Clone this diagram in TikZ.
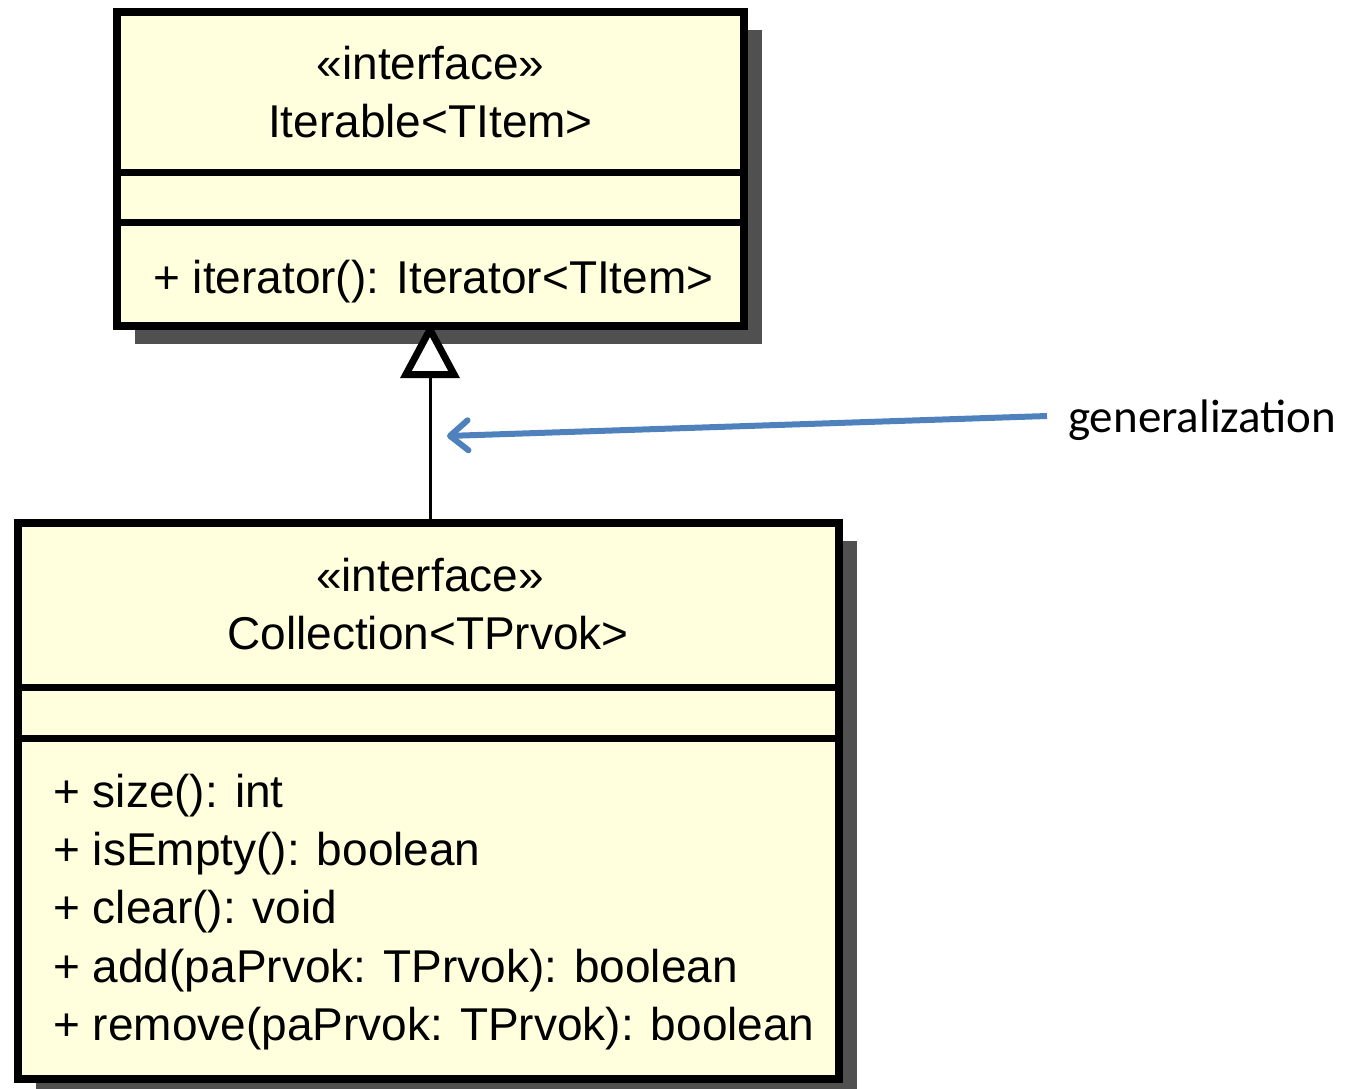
\documentclass[tikz,border=0pt]{standalone}
\usepackage{fontspec}
\setmainfont{Liberation Sans}
\newfontfamily\notefont{Carlito}
\usetikzlibrary{arrows.meta,shadows}

\definecolor{umlfill}{RGB}{255,255,221}
\definecolor{umlshadow}{RGB}{80,80,80}
\definecolor{noteblue}{RGB}{79,129,189}

\tikzset{
  classbox/.style={draw=black, line width=8pt, fill=umlfill, rectangle,
    inner sep=0pt, outer sep=0pt,
    drop shadow={shadow xshift=18pt, shadow yshift=-18pt, fill=umlshadow, opacity=1}},
  compartment/.style={line width=7pt, black},
  umltext/.style={font=\fontsize{46}{55}\selectfont, inner sep=0pt, anchor=base},
  umlitem/.style={umltext, anchor=base west},
  generalization/.style={line width=3pt, black,
    -{Triangle[open, length=56pt, width=58pt, line width=7pt, fill=white]}},
  notearrow/.style={line width=6pt, noteblue,
    -{Straight Barb[length=18pt, width=30pt, round, line width=6pt]}},
}

\begin{document}
\begin{tikzpicture}[x=1pt, y=-1pt]
  \useasboundingbox (0,0) rectangle (1357,1088);

  % Iterable<TItem>
  \node[classbox, minimum width=627pt, minimum height=314pt] (iter) at (430.5,169) {};
  \draw[compartment] (iter.west |- 0,172) -- (iter.east |- 0,172);
  \draw[compartment] (iter.west |- 0,222) -- (iter.east |- 0,222);
  \node[umltext] (iterst) at (430.5,79) {«interface»};
  \node[umltext] (itername) at (430.5,137) {Iterable<TItem>};
  \node[umlitem] (itermeth) at (153,293) {+ iterator(): Iterator<TItem>};

  % Collection<TPrvok>
  \node[classbox, minimum width=821pt, minimum height=556pt] (coll) at (428.5,801) {};
  \draw[compartment] (coll.west |- 0,687) -- (coll.east |- 0,687);
  \draw[compartment] (coll.west |- 0,738) -- (coll.east |- 0,738);
  \node[umltext] (collst) at (430,591) {«interface»};
  \node[umltext] (collname) at (428,649) {Collection<TPrvok>};
  \node[umlitem] (m1) at (53,807) {+ size(): int};
  \node[umlitem] (m2) at (53,865) {+ isEmpty(): boolean};
  \node[umlitem] (m3) at (53,923) {+ clear(): void};
  \node[umlitem] (m4) at (53,982) {+ add(paPrvok: TPrvok): boolean};
  \node[umlitem] (m5) at (53,1040) {+ remove(paPrvok: TPrvok): boolean};

  % generalization from Collection to Iterable
  \draw[generalization] (coll.north -| 430,0) -- ([yshift=4pt]iter.south -| 430,0);

  % annotation
  \node[font=\notefont\fontsize{47}{56}\selectfont, anchor=west, inner sep=0pt] (note) at (1068,420) {generalization};
  \coordinate (notetip) at (447,436);
  \draw[notearrow] ([xshift=-21pt, yshift=4pt]note.west) -- (notetip);
\end{tikzpicture}
\end{document}
